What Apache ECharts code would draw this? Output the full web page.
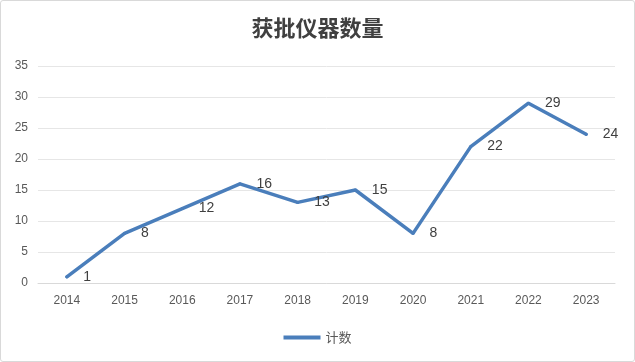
<!DOCTYPE html>
<html><head><meta charset="utf-8">
<script src="https://cdn.jsdelivr.net/npm/echarts@6/dist/echarts.min.js"></script>
<style>html,body{margin:0;padding:0;background:#fff}#c{width:635px;height:362px;box-sizing:border-box;border:1px solid #d9d9d9;border-radius:3px}</style>
</head><body><div id="c"></div>
<script>
const categories = ['2014','2015','2016','2017','2018','2019','2020','2021','2022','2023'];
const counts = [1, 8, 12, 16, 13, 15, 8, 22, 29, 24];
const yTicks = [0, 5, 10, 15, 20, 25, 30, 35];
const seriesName = '计数';
const titleText = '获批仪器数量';

const chart = echarts.init(document.getElementById('c'), null, {renderer: 'canvas'});
chart.setOption({
  animation: false,
  title: {text: titleText, left: 'center', top: 11,
    textStyle: {fontFamily: 'Noto Sans CJK SC', fontSize: 22, fontWeight: 'bold', color: '#404040'}},
  grid: {left: 37, right: 19, top: 65, bottom: 78},
  legend: {bottom: 12, left: 'center', itemWidth: 37, itemHeight: 4,
    textStyle: {fontFamily: 'Noto Sans CJK SC', fontSize: 13, color: '#595959'},
    data: [{name: seriesName, icon: 'rect', itemStyle: {color: '#4a7ebb'}}]},
  xAxis: {type: 'category', data: categories, boundaryGap: true,
    axisLine: {show: true, lineStyle: {color: '#d9d9d9'}}, axisTick: {show: false},
    axisLabel: {color: '#595959', fontSize: 12, fontFamily: 'Liberation Sans', margin: 12}},
  yAxis: {type: 'value', min: yTicks[0], max: yTicks[yTicks.length-1], interval: 5,
    axisLine: {show: false}, axisTick: {show: false},
    splitLine: {lineStyle: {color: '#e6e6e6'}},
    axisLabel: {color: '#595959', fontSize: 12, fontFamily: 'Liberation Sans', margin: 10}},
  series: [{name: seriesName, type: 'line', data: counts, symbol: 'circle', symbolSize: 3, showSymbol: true,
    lineStyle: {color: '#4a7ebb', width: 3.5, cap: 'round'}, itemStyle: {color: '#4a7ebb', borderWidth: 0},
    emphasis: {disabled: true},
    label: {show: true, position: 'right', distance: 14, offset: [1, 0], color: '#404040', fontSize: 14, fontFamily: 'Liberation Sans'}}]
});
</script></body></html>
